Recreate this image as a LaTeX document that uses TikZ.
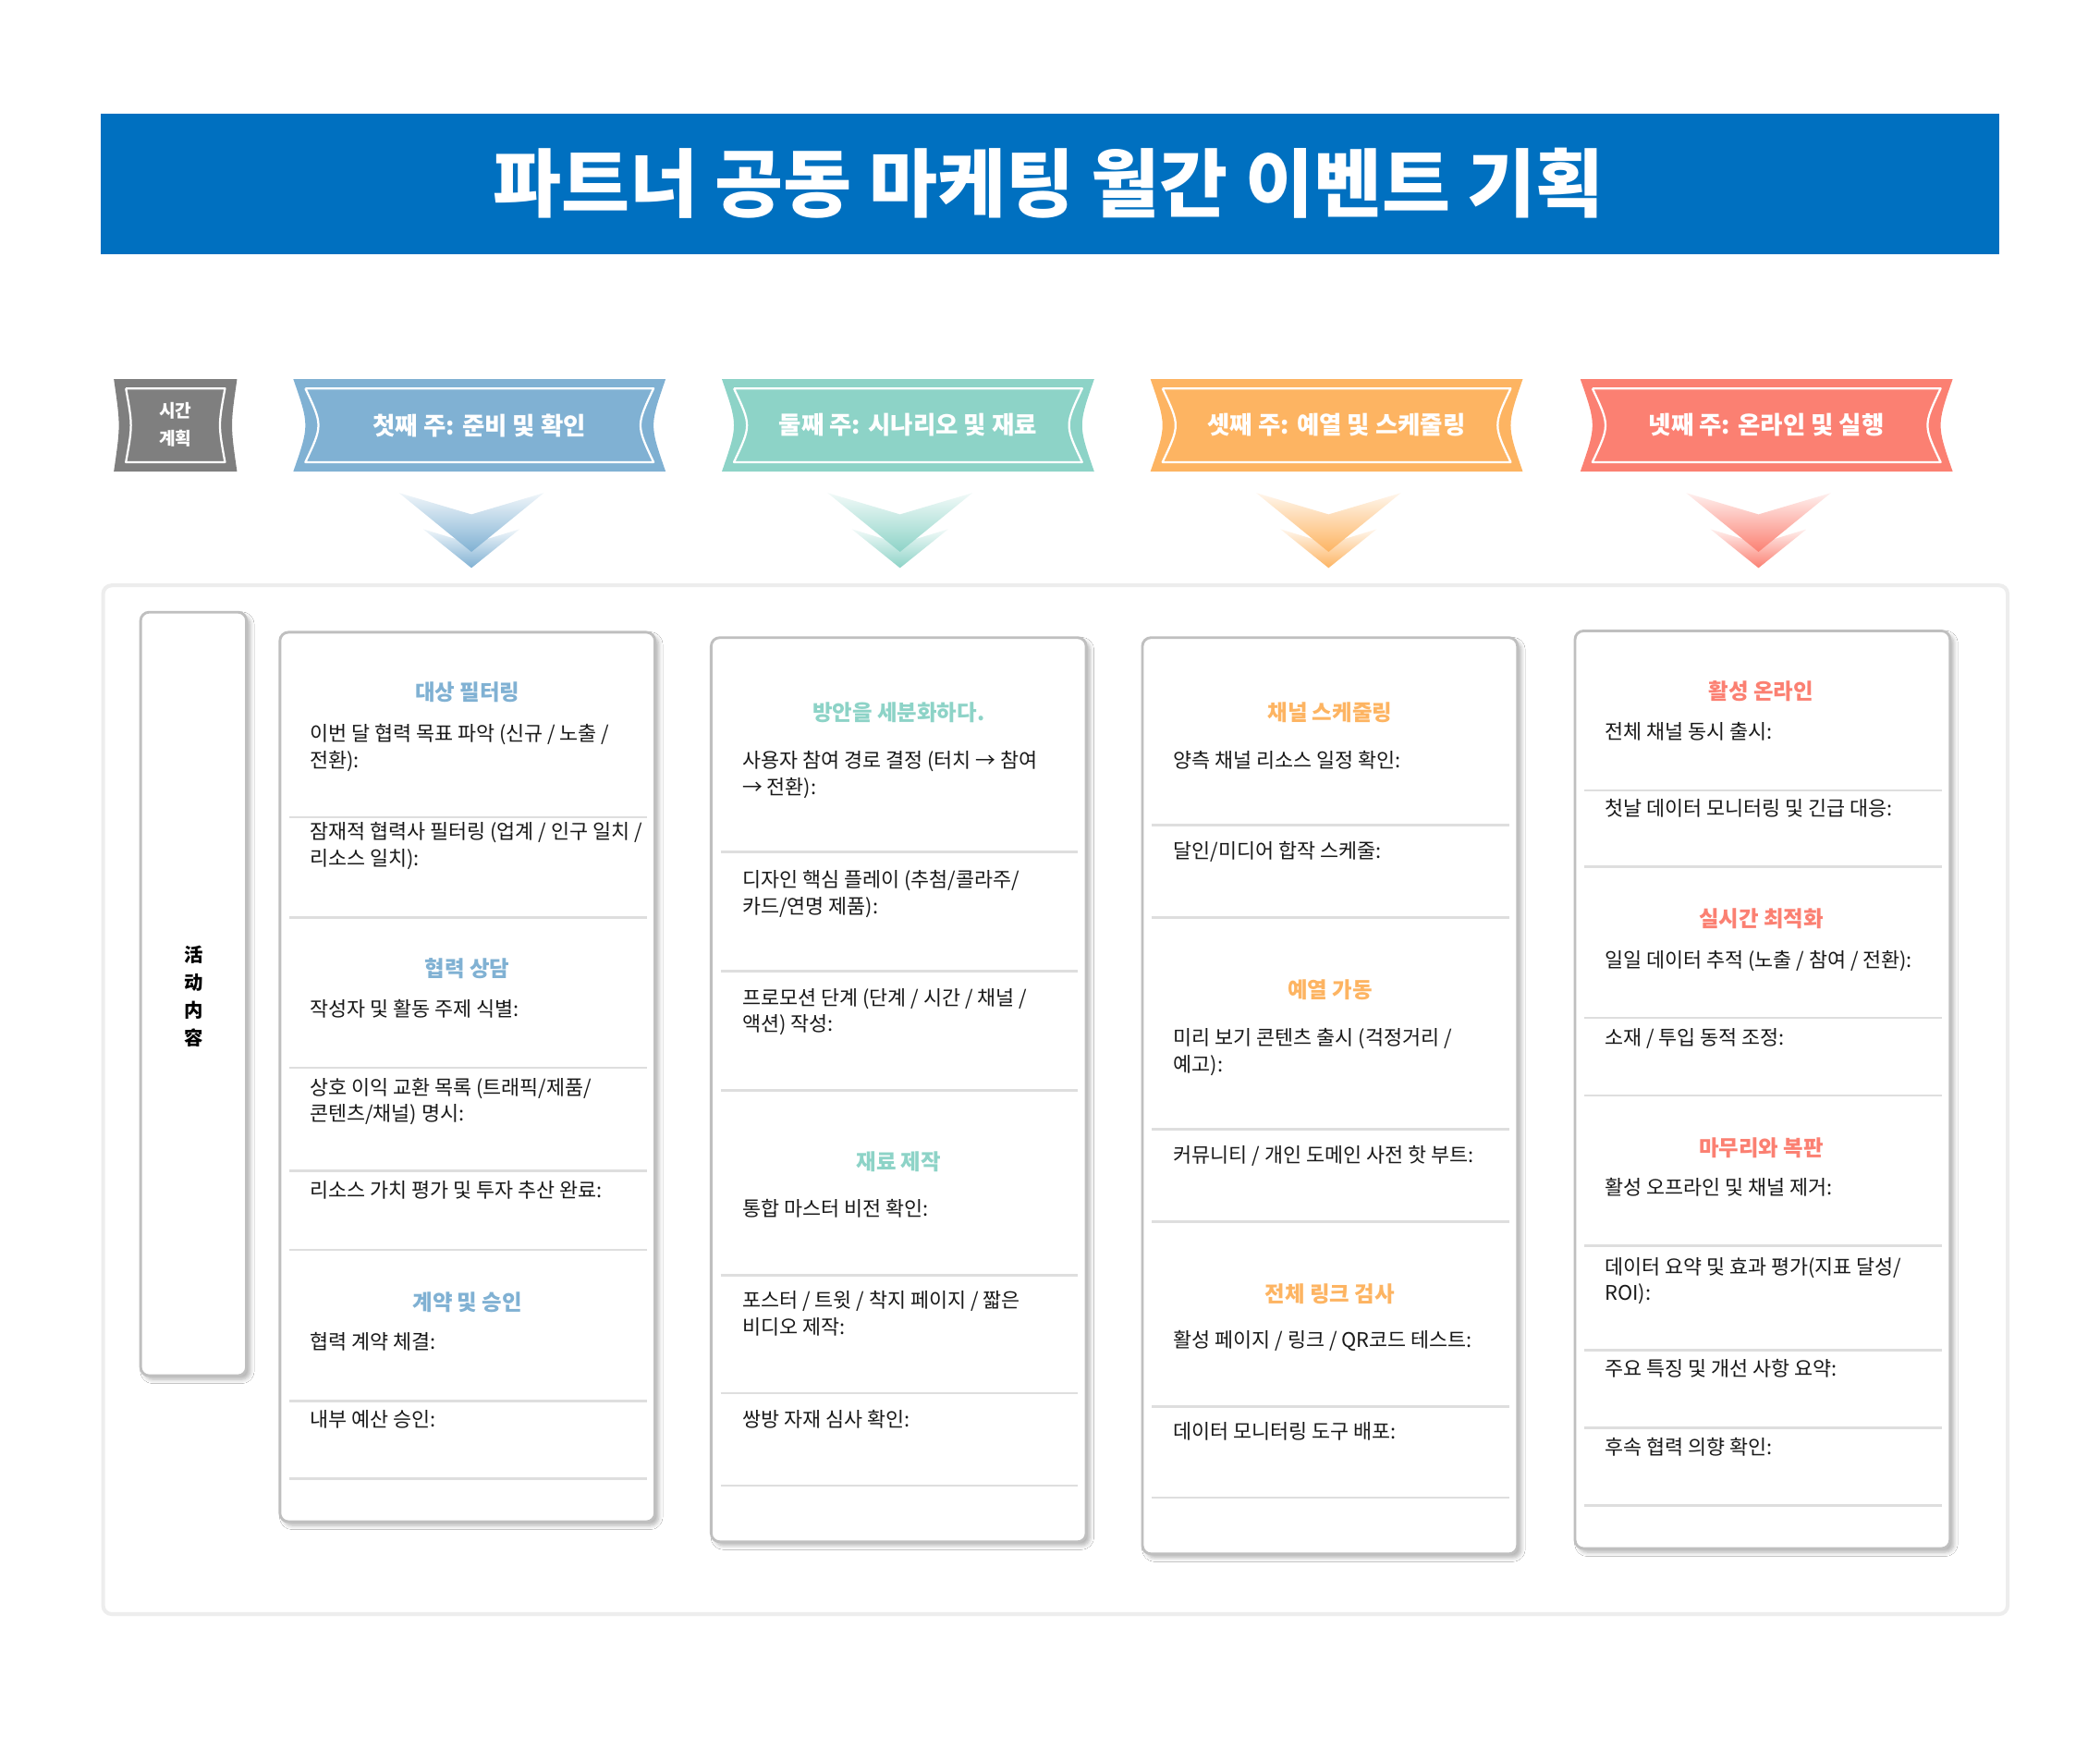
\documentclass[tikz,border=0pt]{standalone}
\usepackage{fontspec}
\setmainfont{Noto Sans CJK KR}
\newfontfamily\zhfont{Noto Sans CJK SC}
\usepackage{tikz}
\usetikzlibrary{shadows.blur}
\definecolor{titleblue}{HTML}{0070C0}
\definecolor{wkone}{HTML}{80B1D3}
\definecolor{wktwo}{HTML}{8DD3C7}
\definecolor{wkthree}{HTML}{FDB462}
\definecolor{wkfour}{HTML}{FB8072}
\definecolor{plangray}{HTML}{7F7F7F}

\begin{document}
\begin{tikzpicture}[x=0.25mm,y=-0.25mm,
  item/.style={anchor=base west, align=left, inner sep=0pt, text=black!90,
    font=\fontsize{10.7}{14}\selectfont},
  head/.style={font=\bfseries\fontsize{11.5}{13}\selectfont},
  ribbontext/.style={text=white, font=\bfseries\fontsize{13}{15}\selectfont},
  frame/.style={draw=white, line width=1.1pt, line join=round},
  sep/.style={draw=black!13, line width=1.2pt},
  card/.style={draw=black!25, line width=1.4pt, fill=white, rounded corners=1.6mm,
    blur shadow={shadow xshift=0.7mm, shadow yshift=-0.7mm, shadow blur steps=6, shadow opacity=30}}]
\fill[white] (0,0) rectangle (1568,1306);
\useasboundingbox (0,0) rectangle (1568,1306);

\fill[titleblue] (75,85) rectangle (1493,190);
\node[text=white, font=\bfseries\fontsize{39.5}{44}\selectfont] (title) at (783,137) {파트너 공동 마케팅 월간 이벤트 기획};

\fill[plangray] (85,283) -- (177,283) .. controls (172,317.5) .. (177,352) -- (85,352) .. controls (90,317.5) .. (85,283);
\draw[frame] (94,290) -- (168,290) .. controls (163,317.5) .. (168,345) -- (94,345) .. controls (99,317.5) .. (94,290);
\node[text=white, align=center, font=\bfseries\fontsize{9.4}{15}\selectfont] (plan) at (131,317) {시간\\계획};

\fill[wkone] (219,283) -- (497,283) .. controls (485,317.5) .. (497,352) -- (219,352) .. controls (231,317.5) .. (219,283);
\draw[frame] (228,290) -- (488,290) .. controls (475,317.5) .. (488,345) -- (228,345) .. controls (241,317.5) .. (228,290);
\node[ribbontext] (wk1) at (358,317.5) {첫째 주: 준비 및 확인};
\fill[wktwo] (539,283) -- (817,283) .. controls (805,317.5) .. (817,352) -- (539,352) .. controls (551,317.5) .. (539,283);
\draw[frame] (548,290) -- (808,290) .. controls (795,317.5) .. (808,345) -- (548,345) .. controls (561,317.5) .. (548,290);
\node[ribbontext] (wk2) at (678,317.5) {둘째 주: 시나리오 및 재료};
\fill[wkthree] (859,283) -- (1137,283) .. controls (1125,317.5) .. (1137,352) -- (859,352) .. controls (871,317.5) .. (859,283);
\draw[frame] (868,290) -- (1128,290) .. controls (1115,317.5) .. (1128,345) -- (868,345) .. controls (881,317.5) .. (868,290);
\node[ribbontext] (wk3) at (998,317.5) {셋째 주: 예열 및 스케줄링};
\fill[wkfour] (1180,283) -- (1458,283) .. controls (1446,317.5) .. (1458,352) -- (1180,352) .. controls (1192,317.5) .. (1180,283);
\draw[frame] (1189,290) -- (1449,290) .. controls (1436,317.5) .. (1449,345) -- (1189,345) .. controls (1202,317.5) .. (1189,290);
\node[ribbontext] (wk4) at (1319,317.5) {넷째 주: 온라인 및 실행};

\shade[top color=wkone!12, bottom color=wkone] (316,395) -- (352,406) -- (388,395) -- (352,424) -- cycle;
\shade[top color=wkone!12, bottom color=wkone] (298,368) -- (352,384) -- (406,368) -- (352,412) -- cycle;
\shade[top color=wktwo!12, bottom color=wktwo] (636,395) -- (672,406) -- (708,395) -- (672,424) -- cycle;
\shade[top color=wktwo!12, bottom color=wktwo] (618,368) -- (672,384) -- (726,368) -- (672,412) -- cycle;
\shade[top color=wkthree!12, bottom color=wkthree] (956,395) -- (992,406) -- (1028,395) -- (992,424) -- cycle;
\shade[top color=wkthree!12, bottom color=wkthree] (938,368) -- (992,384) -- (1046,368) -- (992,412) -- cycle;
\shade[top color=wkfour!12, bottom color=wkfour] (1277,395) -- (1313,406) -- (1349,395) -- (1313,424) -- cycle;
\shade[top color=wkfour!12, bottom color=wkfour] (1259,368) -- (1313,384) -- (1367,368) -- (1313,412) -- cycle;

\draw[black!7, line width=2pt, rounded corners=1.6mm] (77,437) rectangle (1499,1205);

\draw[card] (105,457) rectangle (184,1027);
\node[align=center, font=\zhfont\bfseries\fontsize{10}{14.7}\selectfont] (label) at (145,744) {活\\动\\内\\容};

\draw[card] (209,472) rectangle (489,1136);
\node[head, text=wkone] (h11) at (349,517) {대상 필터링};
\node[item] (t11) at (231,573) {이번 달 협력 목표 파악 (신규 / 노출 /\\전환):};
\draw[sep] (216,610) -- (483,610);
\node[item] (t12) at (231,646) {잠재적 협력사 필터링 (업계 / 인구 일치 /\\리소스 일치):};
\draw[sep] (216,685) -- (483,685);
\node[head, text=wkone] (h12) at (349,723) {협력 상담};
\node[item] (t13) at (231,759) {작성자 및 활동 주제 식별:};
\draw[sep] (216,797) -- (483,797);
\node[item] (t14) at (231,837) {상호 이익 교환 목록 (트래픽/제품/\\콘텐츠/채널) 명시:};
\draw[sep] (216,874) -- (483,874);
\node[item] (t15) at (231,894) {리소스 가치 평가 및 투자 추산 완료:};
\draw[sep] (216,933) -- (483,933);
\node[head, text=wkone] (h13) at (349,972) {계약 및 승인};
\node[item] (t16) at (231,1007) {협력 계약 체결:};
\draw[sep] (216,1046) -- (483,1046);
\node[item] (t17) at (231,1065) {내부 예산 승인:};
\draw[sep] (216,1104) -- (483,1104);

\draw[card] (531,476) rectangle (811,1151);
\node[head, text=wktwo] (h21) at (671,532) {방안을 세분화하다.};
\node[item] (t21) at (554,593) {사용자 참여 경로 결정 (터치 → 참여\\→ 전환):};
\draw[sep] (538,636) -- (805,636);
\node[item] (t22) at (554,682) {디자인 핵심 플레이 (추첨/콜라주/\\카드/연명 제품):};
\draw[sep] (538,725) -- (805,725);
\node[item] (t23) at (554,770) {프로모션 단계 (단계 / 시간 / 채널 /\\액션) 작성:};
\draw[sep] (538,814) -- (805,814);
\node[head, text=wktwo] (h22) at (671,867) {재료 제작};
\node[item] (t24) at (554,908) {통합 마스터 비전 확인:};
\draw[sep] (538,952) -- (805,952);
\node[item] (t25) at (554,996) {포스터 / 트윗 / 착지 페이지 / 짧은\\비디오 제작:};
\draw[sep] (538,1040) -- (805,1040);
\node[item] (t26) at (554,1065) {쌍방 자재 심사 확인:};
\draw[sep] (538,1109) -- (805,1109);

\draw[card] (853,476) rectangle (1133,1160);
\node[head, text=wkthree] (h31) at (993,532) {채널 스케줄링};
\node[item] (t31) at (876,573) {양측 채널 리소스 일정 확인:};
\draw[sep] (860,616) -- (1127,616);
\node[item] (t32) at (876,641) {달인/미디어 합작 스케줄:};
\draw[sep] (860,685) -- (1127,685);
\node[head, text=wkthree] (h32) at (993,739) {예열 가동};
\node[item] (t33) at (876,800) {미리 보기 콘텐츠 출시 (걱정거리 /\\예고):};
\draw[sep] (860,843) -- (1127,843);
\node[item] (t34) at (876,868) {커뮤니티 / 개인 도메인 사전 핫 부트:};
\draw[sep] (860,912) -- (1127,912);
\node[head, text=wkthree] (h33) at (993,966) {전체 링크 검사};
\node[item] (t35) at (876,1006) {활성 페이지 / 링크 / QR코드 테스트:};
\draw[sep] (860,1050) -- (1127,1050);
\node[item] (t36) at (876,1074) {데이터 모니터링 도구 배포:};
\draw[sep] (860,1118) -- (1127,1118);

\draw[card] (1176,471) rectangle (1456,1156);
\node[head, text=wkfour] (h41) at (1315,516) {활성 온라인};
\node[item] (t41) at (1198,552) {전체 채널 동시 출시:};
\draw[sep] (1183,590) -- (1450,590);
\node[item] (t42) at (1198,609) {첫날 데이터 모니터링 및 긴급 대응:};
\draw[sep] (1183,647) -- (1450,647);
\node[head, text=wkfour] (h42) at (1315,686) {실시간 최적화};
\node[item] (t43) at (1198,722) {일일 데이터 추적 (노출 / 참여 / 전환):};
\draw[sep] (1183,760) -- (1450,760);
\node[item] (t44) at (1198,780) {소재 / 투입 동적 조정:};
\draw[sep] (1183,818) -- (1450,818);
\node[head, text=wkfour] (h43) at (1315,857) {마무리와 복판};
\node[item] (t45) at (1198,892) {활성 오프라인 및 채널 제거:};
\draw[sep] (1183,930) -- (1450,930);
\node[item] (t46) at (1198,971) {데이터 요약 및 효과 평가(지표 달성/\\ROI):};
\draw[sep] (1183,1008) -- (1450,1008);
\node[item] (t47) at (1198,1027) {주요 특징 및 개선 사항 요약:};
\draw[sep] (1183,1066) -- (1450,1066);
\node[item] (t48) at (1198,1086) {후속 협력 의향 확인:};
\draw[sep] (1183,1124) -- (1450,1124);
\end{tikzpicture}
\end{document}
